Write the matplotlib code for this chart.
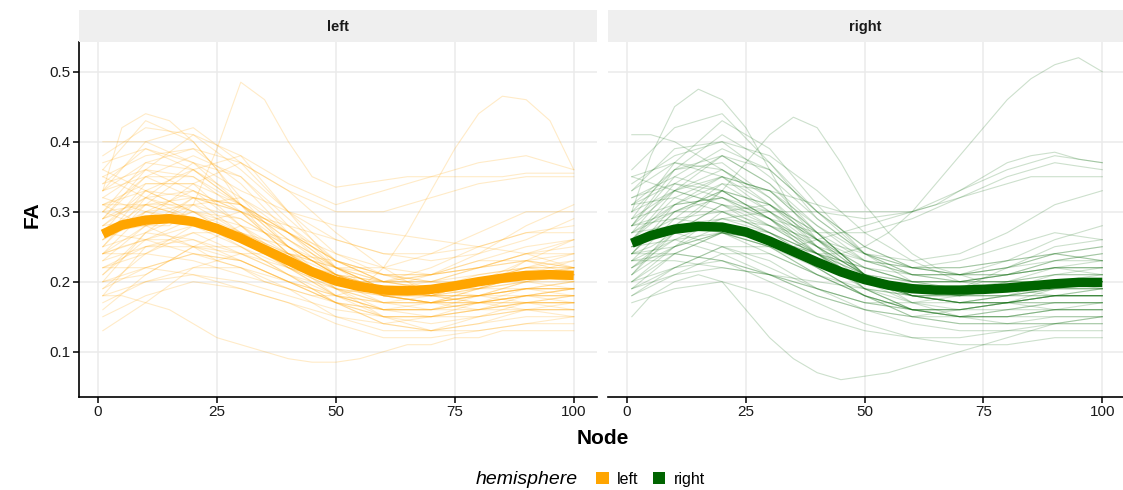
import matplotlib
matplotlib.use("Agg")
import matplotlib.pyplot as plt
from matplotlib.patches import Patch

plt.rcParams['font.family'] = ['Liberation Sans', 'DejaVu Sans']

# ---------------- data ----------------
panels = ["left", "right"]
colors = {"left": "#FFA500", "right": "#006400"}
x_ticks = [0, 25, 50, 75, 100]
y_ticks = [0.1, 0.2, 0.3, 0.4, 0.5]
y_tick_labels = ["0.1", "0.2", "0.3", "0.4", "0.5"]

# typical subject profiles sampled every 10 nodes
subj_nodes = [1, 10, 20, 30, 40, 50, 60, 70, 80, 90, 100]

left_subjects = [
    [.27, .30, .31, .29, .25, .21, .19, .19, .20, .21, .21],
    [.33, .37, .36, .32, .27, .23, .21, .21, .22, .23, .22],
    [.22, .25, .26, .24, .21, .18, .16, .16, .17, .18, .18],
    [.30, .35, .38, .35, .29, .23, .20, .20, .22, .24, .25],
    [.40, .40, .37, .33, .30, .28, .27, .26, .25, .24, .22],
    [.13, .17, .22, .24, .22, .18, .15, .14, .15, .16, .16],
    [.25, .31, .31, .27, .23, .20, .19, .20, .22, .24, .24],
    [.36, .43, .40, .32, .25, .21, .20, .21, .23, .25, .26],
    [.20, .22, .24, .23, .20, .17, .15, .15, .16, .17, .17],
    [.31, .33, .30, .26, .23, .20, .18, .17, .17, .18, .19],
    [.26, .29, .34, .37, .33, .27, .22, .18, .17, .17, .18],
    [.35, .38, .39, .37, .33, .30, .30, .32, .34, .35, .35],
    [.24, .24, .23, .21, .19, .17, .16, .17, .19, .21, .21],
    [.29, .32, .33, .30, .25, .19, .15, .13, .13, .14, .15],
    [.21, .27, .30, .28, .23, .18, .16, .16, .18, .20, .21],
    [.38, .42, .41, .36, .30, .26, .24, .24, .25, .27, .28],
    [.17, .20, .22, .22, .19, .15, .13, .13, .15, .17, .17],
    [.32, .30, .28, .26, .24, .22, .21, .20, .19, .19, .19],
    [.23, .28, .32, .31, .27, .22, .20, .21, .24, .28, .31],
    [.27, .34, .34, .28, .22, .18, .16, .16, .17, .18, .19],
    [.15, .18, .20, .19, .17, .14, .12, .12, .13, .14, .14],
    [.34, .36, .33, .28, .24, .22, .22, .24, .27, .30, .30],
    [.28, .29, .28, .25, .22, .20, .19, .19, .20, .20, .19],
    [.19, .24, .28, .30, .27, .22, .19, .18, .19, .21, .23],
    [.30, .31, .36, .38, .34, .31, .33, .35, .37, .38, .36],
    [.26, .33, .36, .31, .25, .21, .18, .17, .16, .16, .16],
    [.22, .22, .21, .19, .17, .15, .14, .15, .17, .19, .19],
    [.36, .33, .30, .27, .24, .21, .18, .17, .18, .20, .22],
    [.24, .30, .33, .30, .24, .19, .17, .17, .19, .23, .26],
    [.29, .36, .41, .38, .30, .22, .18, .17, .18, .19, .20],
    [.20, .21, .25, .28, .26, .22, .19, .18, .18, .19, .18],
    [.33, .35, .32, .27, .22, .19, .18, .19, .21, .22, .21],
    [.25, .27, .26, .23, .20, .18, .17, .18, .20, .22, .22],
    [.31, .28, .25, .24, .24, .23, .21, .19, .18, .17, .16],
    [.27, .31, .29, .25, .21, .17, .14, .13, .14, .16, .17],
    [.18, .25, .27, .24, .21, .19, .18, .18, .17, .16, .15],
    [.28, .33, .32, .30, .28, .26, .24, .23, .24, .26, .29],
    [.26, .30, .29, .26, .22, .19, .17, .17, .18, .19, .19],
    [.32, .36, .35, .31, .27, .23, .20, .19, .19, .20, .21],
    [.21, .26, .29, .27, .23, .19, .16, .15, .15, .16, .16],
    [.29, .31, .29, .26, .23, .21, .20, .20, .21, .22, .22],
    [.24, .28, .30, .29, .25, .21, .19, .18, .19, .21, .22],
    [.37, .39, .36, .31, .26, .22, .19, .18, .18, .19, .19],
    [.19, .22, .24, .23, .20, .17, .16, .16, .17, .18, .18],
    [.30, .37, .39, .34, .27, .21, .18, .18, .20, .23, .24],
    [.23, .25, .25, .23, .20, .17, .15, .15, .16, .18, .19],
    [.34, .39, .37, .31, .25, .21, .19, .19, .20, .21, .20],
    [.27, .28, .31, .32, .28, .23, .20, .19, .20, .22, .24],
    [.16, .21, .25, .25, .21, .17, .14, .13, .14, .15, .15],
    [.28, .32, .30, .26, .22, .20, .20, .22, .25, .27, .27],
    [.25, .32, .37, .35, .28, .22, .19, .18, .18, .18, .17],
    [.31, .34, .34, .31, .27, .23, .21, .20, .20, .21, .22],
    [.22, .24, .27, .27, .24, .20, .17, .16, .16, .17, .18],
    [.35, .32, .29, .26, .23, .20, .18, .17, .17, .17, .17],
    [.20, .27, .32, .31, .26, .21, .18, .18, .20, .22, .23],
    [.27, .26, .24, .22, .20, .18, .17, .17, .18, .19, .20],
    [.33, .40, .42, .37, .30, .24, .21, .21, .22, .23, .22],
    [.24, .26, .28, .27, .25, .22, .20, .19, .19, .20, .20],
    [.29, .35, .35, .30, .24, .20, .18, .17, .17, .18, .18],
    [.18, .20, .21, .20, .18, .16, .15, .15, .16, .17, .17],
    [.31, .31, .32, .30, .27, .24, .22, .21, .22, .24, .26],
]

right_subjects = [
    [.26, .29, .30, .27, .23, .20, .19, .19, .19, .20, .20],
    [.22, .25, .27, .25, .21, .18, .16, .16, .17, .18, .18],
    [.28, .33, .35, .31, .26, .22, .20, .20, .21, .22, .22],
    [.20, .22, .23, .21, .18, .16, .15, .15, .15, .16, .16],
    [.33, .37, .36, .31, .26, .23, .22, .23, .25, .27, .26],
    [.24, .31, .34, .30, .24, .19, .16, .15, .15, .16, .16],
    [.18, .21, .24, .24, .21, .18, .16, .15, .16, .17, .17],
    [.29, .33, .38, .36, .30, .25, .22, .21, .21, .22, .21],
    [.27, .28, .27, .24, .21, .19, .18, .18, .19, .20, .19],
    [.36, .42, .44, .37, .29, .24, .22, .22, .23, .24, .23],
    [.21, .27, .31, .30, .26, .21, .18, .17, .18, .20, .21],
    [.25, .26, .24, .21, .18, .16, .15, .16, .17, .18, .18],
    [.32, .35, .33, .29, .27, .27, .29, .32, .35, .37, .36],
    [.19, .24, .27, .26, .22, .18, .15, .14, .14, .15, .15],
    [.30, .36, .37, .32, .25, .20, .18, .18, .19, .20, .20],
    [.23, .23, .22, .21, .20, .19, .18, .17, .17, .16, .16],
    [.26, .31, .35, .33, .27, .21, .19, .19, .22, .25, .26],
    [.28, .30, .30, .28, .26, .24, .23, .24, .27, .31, .33],
    [.17, .19, .20, .18, .15, .13, .12, .12, .13, .13, .13],
    [.34, .38, .40, .38, .33, .27, .23, .20, .19, .18, .18],
    [.24, .30, .33, .29, .23, .19, .17, .17, .18, .19, .19],
    [.22, .26, .29, .28, .24, .20, .18, .18, .19, .21, .22],
    [.31, .32, .30, .27, .24, .22, .21, .21, .22, .24, .25],
    [.20, .25, .30, .31, .27, .21, .17, .15, .14, .14, .14],
    [.27, .34, .38, .34, .27, .21, .18, .17, .17, .17, .17],
    [.25, .27, .25, .22, .19, .17, .17, .18, .20, .22, .23],
    [.35, .33, .31, .28, .25, .23, .22, .21, .21, .22, .22],
    [.21, .28, .33, .31, .25, .19, .16, .15, .16, .17, .17],
    [.29, .31, .32, .29, .25, .21, .19, .18, .18, .19, .19],
    [.24, .25, .27, .26, .24, .22, .20, .20, .21, .23, .24],
    [.19, .22, .25, .23, .19, .16, .14, .13, .13, .14, .15],
    [.28, .36, .41, .37, .30, .24, .21, .20, .20, .21, .21],
    [.23, .24, .23, .20, .17, .14, .12, .11, .11, .12, .12],
    [.26, .27, .29, .30, .30, .29, .30, .33, .36, .38, .37],
    [.31, .34, .33, .29, .24, .20, .18, .17, .18, .18, .19],
    [.27, .31, .32, .29, .25, .21, .19, .18, .18, .18, .18],
    [.23, .29, .34, .33, .27, .21, .18, .17, .17, .18, .18],
    [.30, .33, .31, .27, .23, .20, .19, .19, .20, .21, .21],
    [.20, .24, .27, .26, .22, .18, .16, .16, .17, .18, .18],
    [.33, .39, .40, .35, .29, .24, .21, .20, .20, .20, .20],
    [.25, .28, .29, .27, .24, .21, .20, .20, .21, .22, .22],
    [.22, .27, .31, .29, .24, .19, .16, .15, .15, .16, .17],
    [.28, .35, .39, .36, .30, .25, .22, .21, .22, .23, .23],
    [.18, .22, .25, .25, .22, .18, .15, .14, .14, .14, .15],
    [.32, .34, .32, .28, .24, .21, .20, .20, .21, .23, .24],
    [.26, .33, .36, .32, .26, .21, .18, .17, .17, .17, .17],
    [.24, .24, .23, .21, .19, .17, .16, .16, .17, .19, .20],
    [.29, .37, .43, .39, .31, .24, .20, .19, .19, .20, .20],
    [.21, .25, .28, .27, .24, .20, .17, .16, .16, .16, .16],
    [.27, .30, .33, .31, .27, .23, .21, .21, .22, .24, .25],
    [.35, .37, .35, .30, .25, .21, .19, .18, .18, .19, .19],
    [.19, .21, .22, .21, .19, .17, .16, .15, .15, .15, .15],
    [.26, .32, .35, .33, .28, .24, .22, .22, .23, .24, .23],
    [.23, .26, .27, .25, .21, .18, .16, .16, .17, .18, .19],
    [.31, .36, .38, .34, .28, .23, .21, .21, .23, .26, .28],
    [.24, .30, .32, .30, .26, .22, .20, .19, .19, .20, .20],
    [.28, .29, .28, .26, .23, .20, .18, .17, .17, .18, .18],
]

# atypical subject profiles sampled every 5 nodes
out_nodes = [1, 5, 10, 15, 20, 25, 30, 35, 40, 45, 50,
             55, 60, 65, 70, 75, 80, 85, 90, 95, 100]
left_outliers = [
    [.30, .29, .28, .28, .31, .39, .485, .46, .40, .35, .335,
     .34, .345, .35, .35, .35, .35, .35, .355, .355, .355],
    [.24, .25, .26, .26, .25, .23, .22, .20, .19, .18, .18,
     .19, .22, .27, .33, .39, .44, .465, .46, .43, .36],
    [.18, .18, .17, .16, .14, .12, .11, .10, .09, .085, .085,
     .09, .10, .11, .11, .12, .12, .13, .13, .13, .13],
    [.33, .42, .44, .43, .40, .36, .31, .27, .24, .22, .21,
     .20, .20, .20, .21, .22, .23, .23, .23, .22, .21],
]
right_outliers = [
    [.24, .25, .27, .28, .28, .27, .26, .25, .24, .24, .25,
     .27, .30, .34, .38, .42, .46, .49, .51, .52, .50],
    [.30, .38, .45, .475, .46, .42, .36, .30, .26, .23, .21,
     .20, .19, .19, .19, .20, .20, .20, .20, .20, .20],
    [.25, .26, .28, .30, .33, .37, .41, .435, .42, .37, .31,
     .27, .24, .22, .21, .20, .20, .20, .20, .20, .20],
    [.15, .18, .20, .21, .20, .16, .12, .09, .07, .06, .065,
     .07, .08, .09, .10, .11, .12, .13, .14, .14, .14],
    [.26, .27, .28, .28, .27, .26, .25, .25, .26, .27, .28,
     .29, .30, .31, .33, .35, .37, .38, .385, .375, .37],
    [.41, .41, .40, .38, .36, .34, .33, .32, .31, .30, .30,
     .30, .30, .31, .32, .33, .34, .35, .35, .35, .35],
]

# group mean profile
mean_nodes = out_nodes
left_mean = [.268, .281, .288, .290, .286, .276, .262, .246, .230, .214, .201,
             .193, .188, .187, .189, .194, .200, .205, .209, .210, .209]
right_mean = [.255, .266, .275, .279, .278, .271, .258, .243, .228, .214, .203,
              .195, .190, .188, .188, .189, .191, .194, .197, .199, .199]

subjects = {"left": left_subjects, "right": right_subjects}
outliers = {"left": left_outliers, "right": right_outliers}
means = {"left": left_mean, "right": right_mean}
line_alpha = {"left": 0.22, "right": 0.2}

# ---------------- figure ----------------
W, H = 1123, 490
fig = plt.figure(figsize=(W / 100, H / 100), dpi=100)


def fx(px):
    return px / W


def fy(py):
    return 1 - py / H


panel_px = {"left": (79.3, 597.3), "right": (608.3, 1125.8)}
top_px, bot_px = 42.3, 396.7
strip_top = 10.5
grid_col = "#EBEBEB"

for i, name in enumerate(panels):
    x0, x1 = panel_px[name]
    ax = fig.add_axes([fx(x0), fy(bot_px), fx(x1 - x0), (bot_px - top_px) / H])
    ax.set_xlim(-3.95, 104.95)
    ax.set_ylim(0.0357, 0.542)
    for s in subjects[name]:
        ax.plot(subj_nodes, s, color=colors[name], lw=0.8, alpha=line_alpha[name],
                zorder=2)
    for s in outliers[name]:
        ax.plot(out_nodes, s, color=colors[name], lw=0.8, alpha=line_alpha[name],
                zorder=2)
    ax.plot(mean_nodes, means[name], color=colors[name], lw=6.8,
            solid_capstyle="butt", zorder=3)
    ax.set_xticks(x_ticks)
    ax.set_yticks(y_ticks)
    ax.grid(True, color=grid_col, lw=1.1, zorder=0)
    ax.set_axisbelow(True)
    for sp in ["top", "right"]:
        ax.spines[sp].set_visible(False)
    ax.spines["bottom"].set_color("black")
    ax.spines["bottom"].set_linewidth(1.2)
    ax.tick_params(axis="x", length=4, width=1.1, color="black",
                   labelsize=11, labelcolor="#1a1a1a", pad=2)
    if i == 0:
        ax.spines["left"].set_color("black")
        ax.spines["left"].set_linewidth(1.2)
        ax.set_yticklabels(y_tick_labels)
        ax.tick_params(axis="y", length=4, width=1.1, color="black",
                       labelsize=11, labelcolor="#1a1a1a", pad=2)
    else:
        ax.spines["left"].set_visible(False)
        ax.tick_params(axis="y", length=0, labelleft=False)
    ax.patch.set_alpha(0)
    # facet strip
    sax = fig.add_axes([fx(x0), fy(top_px), fx(x1 - x0), (top_px - strip_top) / H])
    sax.set_facecolor("#EFEFEF")
    sax.set_xticks([])
    sax.set_yticks([])
    for sp in sax.spines.values():
        sp.set_visible(False)
    cx = 0.5 if i == 0 else ((627.3 + 1102.3) / 2 - x0) / (x1 - x0)
    sax.text(cx, 0.48, name, transform=sax.transAxes, ha="center", va="center",
             fontsize=10.5, fontweight="bold", color="#1a1a1a")

fig.text(fx(32), fy(215), "FA", rotation=90, ha="center", va="center",
         fontsize=15, fontweight="bold")
fig.text(fx(603), fy(438), "Node", ha="center", va="center",
         fontsize=15, fontweight="bold")

fig.text(fx(527), fy(479), "hemisphere", ha="center", va="center",
         fontsize=14, style="italic")
handles = [Patch(facecolor=colors[n], edgecolor="none") for n in panels]
fig.legend(handles, panels, loc="center left", bbox_to_anchor=(fx(596), fy(479)),
           ncol=2, frameon=False, fontsize=11.5, handlelength=0.8, handleheight=0.8,
           handletextpad=0.5, columnspacing=0.9, borderpad=0, borderaxespad=0)

fig.savefig("out.png", dpi=100, facecolor="white")
